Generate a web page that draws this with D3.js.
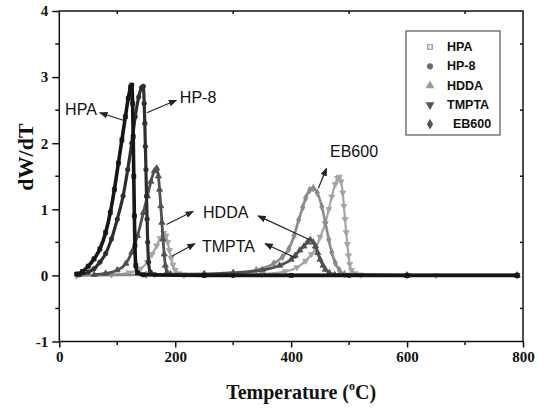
<!DOCTYPE html>
<html>
<head>
<meta charset="utf-8">
<script src="https://cdn.jsdelivr.net/npm/d3@7"></script>
<style>
  body { margin: 0; background: #fff; }
  svg { display: block; }
</style>
</head>
<body>
<svg id="chart" width="542" height="410"></svg>
<script>
// series values: [temperature in C, dW/dT]
var hpaData = [[30,0.02],[40,0.06],[50,0.14],[60,0.25],[70,0.4],[80,0.65],[88,0.95],[95,1.3],[102,1.7],[108,2.05],[114,2.4],[119,2.68],[123,2.85],[125,2.88],[126.5,2.6],[127.5,2.1],[128.5,1.5],[129.5,0.9],[130.5,0.45],[132,0.15],[135,0.04],[145,0.01],[250,0],[400,0],[600,0],[790,0]];
var hp8Data = [[35,0.01],[50,0.05],[60,0.1],[70,0.2],[80,0.33],[90,0.55],[100,0.85],[110,1.2],[118,1.6],[125,2.0],[131,2.4],[137,2.7],[142,2.84],[145,2.86],[146.5,2.6],[147.5,2.3],[148.5,1.95],[149.5,1.6],[150.5,1.2],[151.5,0.85],[152.5,0.5],[154,0.2],[157,0.05],[165,0.01],[300,0],[500,0],[790,0]];
var hddaData = [[60,0.01],[80,0.03],[100,0.08],[115,0.18],[125,0.35],[135,0.6],[145,0.95],[152,1.2],[158,1.42],[164,1.58],[168,1.62],[171,1.5],[173,1.3],[175,1.05],[177,0.8],[179,0.55],[181,0.32],[183,0.15],[186,0.05],[192,0.02],[250,0.02],[300,0.04],[350,0.08],[380,0.15],[400,0.24],[407,0.3],[415,0.38],[422,0.44],[428,0.5],[433,0.54],[438,0.5],[442,0.44],[446,0.34],[450,0.24],[455,0.15],[459,0.09],[466,0.04],[475,0.01],[600,0],[790,0]];
var tmptaData = [[90,0.01],[120,0.04],[140,0.1],[152,0.2],[160,0.32],[168,0.45],[174,0.56],[180,0.64],[184,0.6],[187,0.5],[190,0.38],[193,0.26],[196,0.16],[200,0.08],[206,0.03],[215,0.01],[300,0.01],[350,0.02],[390,0.06],[410,0.12],[425,0.22],[435,0.32],[442,0.4],[450,0.58],[459,0.79],[465,1.0],[470,1.19],[476,1.38],[480,1.47],[483,1.49],[486,1.42],[489,1.25],[491,1.05],[493,0.85],[495,0.65],[497,0.47],[499,0.3],[501,0.17],[504,0.08],[510,0.03],[520,0.01],[650,0],[790,0]];
var eb600Data = [[30,0],[150,0.01],[250,0.02],[300,0.03],[340,0.08],[370,0.18],[385,0.28],[396,0.4],[405,0.6],[413,0.84],[420,1.03],[425,1.17],[432,1.29],[438,1.32],[445,1.25],[453,1.04],[459,0.8],[465,0.54],[470,0.35],[476,0.19],[483,0.08],[492,0.02],[600,0],[790,0]];

var seriesNames = ["HPA", "HP-8", "HDDA", "TMPTA", "EB600"];
var xTicks = [0, 200, 400, 600, 800];
var xMinorTicks = [100, 300, 500, 700];
var yTicks = [-1, 0, 1, 2, 3, 4];
var yMinorTicks = [-0.5, 0.5, 1.5, 2.5, 3.5];

// label position, then arrows [head, tail] in data units
var labels = [
  { text: "HPA", at: [10, 2.43], arrows: [[[70, 2.46], [113, 2.34]]] },
  { text: "HP-8", at: [208, 2.61], arrows: [[[202, 2.65], [151, 2.46]]] },
  { text: "HDDA", at: [248, 0.87], arrows: [[[231, 0.97], [185, 0.77]], [[343, 0.9], [432, 0.54]]] },
  { text: "TMPTA", at: [246, 0.36], arrows: [[[234, 0.48], [194, 0.29]], [[355, 0.48], [409, 0.26]]] },
  { text: "EB600", at: [467, 1.79], arrows: [[[461, 1.62], [447, 1.32]]] }
];

var series = [
  { name: seriesNames[0], data: hpaData, color: "#161616", width: 3.6, sym: d3.symbolSquare, rot: 0 },
  { name: seriesNames[1], data: hp8Data, color: "#2e2e2e", width: 3.2, sym: d3.symbolCircle, rot: 0 },
  { name: seriesNames[2], data: hddaData, color: "#505050", width: 2.8, sym: d3.symbolTriangle, rot: 0 },
  { name: seriesNames[3], data: tmptaData, color: "#a4a4a4", width: 2.2, sym: d3.symbolTriangle, rot: 180 },
  { name: seriesNames[4], data: eb600Data, color: "#8a8a8a", width: 2.6, sym: d3.symbolDiamond, rot: 0 }
];

var svg = d3.select("#chart");
var plotLeft = 59.3, plotRight = 523, plotTop = 11, plotBottom = 341.5;

var x = d3.scaleLinear().domain([0, 800]).range([plotLeft, plotRight]);
var y = d3.scaleLinear().domain([-1, 4]).range([plotBottom, plotTop]);

var serif = "'Liberation Serif', 'Times New Roman', serif";
var sans = "'Liberation Sans', Arial, sans-serif";

var line = d3.line()
  .x(function(d) { return x(d[0]); })
  .y(function(d) { return y(d[1]); })
  .curve(d3.curveMonotoneX);

var plot = svg.append("g");

// draw light series first so dark ones sit on top
var drawOrder = [3, 4, 2, 1, 0];
drawOrder.forEach(function(i) {
  var s = series[i];
  plot.append("path")
    .datum(s.data)
    .attr("d", line)
    .attr("fill", "none")
    .attr("stroke", s.color)
    .attr("stroke-width", s.width)
    .attr("stroke-linejoin", "round");

  plot.selectAll(".m" + i)
    .data(s.data)
    .enter().append("path")
    .attr("class", "m" + i)
    .attr("d", d3.symbol().type(s.sym).size(16))
    .attr("transform", function(d) {
      return "translate(" + x(d[0]) + "," + y(d[1]) + ") rotate(" + s.rot + ")";
    })
    .attr("fill", s.color)
    .attr("stroke", s.color)
    .attr("stroke-width", 0.8);
});

// frame
svg.append("rect")
  .attr("x", plotLeft).attr("y", plotTop)
  .attr("width", plotRight - plotLeft).attr("height", plotBottom - plotTop)
  .attr("fill", "none")
  .attr("stroke", "#111")
  .attr("stroke-width", 1.5);

// bottom axis
var xAxis = svg.append("g")
  .attr("transform", "translate(0," + plotBottom + ")")
  .call(d3.axisBottom(x).tickValues(xTicks).tickSize(6).tickPadding(4));
xAxis.select(".domain").remove();
xAxis.selectAll("line").attr("stroke", "#111").attr("stroke-width", 1.5);
xAxis.selectAll("text")
  .attr("font-family", serif).attr("font-weight", "bold")
  .attr("font-size", 15).attr("fill", "#111");

svg.append("g").selectAll("line")
  .data(xMinorTicks).enter().append("line")
  .attr("x1", function(d) { return x(d); }).attr("x2", function(d) { return x(d); })
  .attr("y1", plotBottom).attr("y2", plotBottom + 3.5)
  .attr("stroke", "#111").attr("stroke-width", 1.5);

// top mirror ticks
svg.append("g").selectAll("line")
  .data(xMinorTicks).enter().append("line")
  .attr("x1", function(d) { return x(d); }).attr("x2", function(d) { return x(d); })
  .attr("y1", plotTop).attr("y2", plotTop + 3)
  .attr("stroke", "#111").attr("stroke-width", 1.5);

// left axis
var yAxis = svg.append("g")
  .attr("transform", "translate(" + plotLeft + ",0)")
  .call(d3.axisLeft(y).tickValues(yTicks).tickSize(7).tickPadding(4)
    .tickFormat(function(d) { return String(d); }));
yAxis.select(".domain").remove();
yAxis.selectAll("line").attr("stroke", "#111").attr("stroke-width", 1.5);
yAxis.selectAll("text")
  .attr("font-family", serif).attr("font-weight", "bold")
  .attr("font-size", 15).attr("fill", "#111");

svg.append("g").selectAll("line")
  .data(yMinorTicks).enter().append("line")
  .attr("x1", plotLeft - 4).attr("x2", plotLeft)
  .attr("y1", function(d) { return y(d); }).attr("y2", function(d) { return y(d); })
  .attr("stroke", "#111").attr("stroke-width", 1.5);

// right mirror ticks
svg.append("g").selectAll("line")
  .data(yMinorTicks).enter().append("line")
  .attr("x1", plotRight - 3).attr("x2", plotRight)
  .attr("y1", function(d) { return y(d); }).attr("y2", function(d) { return y(d); })
  .attr("stroke", "#111").attr("stroke-width", 1.5);

// axis titles
var xTitle = svg.append("text")
  .attr("x", (plotLeft + plotRight) / 2 + 10).attr("y", 399)
  .attr("text-anchor", "middle")
  .attr("font-family", serif).attr("font-weight", "bold")
  .attr("font-size", 20).attr("fill", "#111");
xTitle.append("tspan").text("Temperature (");
xTitle.append("tspan").attr("font-size", 12).attr("dy", -9).text("o");
xTitle.append("tspan").attr("dy", 9).text("C)");

svg.append("text")
  .attr("transform", "translate(33,157) rotate(-90)")
  .attr("text-anchor", "middle")
  .attr("font-family", serif).attr("font-weight", "bold")
  .attr("font-size", 22).attr("fill", "#111")
  .text("dW/dT");

// annotations
var defs = svg.append("defs");
defs.append("marker")
  .attr("id", "head")
  .attr("viewBox", "0 0 10 10")
  .attr("refX", 9).attr("refY", 5)
  .attr("markerWidth", 7).attr("markerHeight", 7)
  .attr("orient", "auto")
  .append("path")
  .attr("d", "M0,1 L10,5 L0,9 z")
  .attr("fill", "#222");

var notes = svg.append("g");
labels.forEach(function(l) {
  notes.append("text")
    .attr("x", x(l.at[0])).attr("y", y(l.at[1]))
    .attr("font-family", sans).attr("font-size", 16)
    .attr("fill", "#111")
    .text(l.text);
  l.arrows.forEach(function(a) {
    notes.append("line")
      .attr("x1", x(a[1][0])).attr("y1", y(a[1][1]))
      .attr("x2", x(a[0][0])).attr("y2", y(a[0][1]))
      .attr("stroke", "#222").attr("stroke-width", 1.2)
      .attr("marker-end", "url(#head)");
  });
});

// legend
var legendColors = ["#8a8a8a", "#6a6a6a", "#9a9a9a", "#555", "#555"];
var legend = svg.append("g").attr("transform", "translate(406,31)");
legend.append("rect")
  .attr("width", 94).attr("height", 104)
  .attr("fill", "#fff")
  .attr("stroke", "#555").attr("stroke-width", 1.2);

series.forEach(function(s, i) {
  var g = legend.append("g").attr("transform", "translate(0," + (20 + i * 19.3) + ")");
  g.append("path")
    .attr("d", d3.symbol().type(s.sym).size(20))
    .attr("transform", "translate(24,-4) rotate(" + s.rot + ")")
    .attr("fill", i === 0 ? "#fff" : legendColors[i])
    .attr("stroke", legendColors[i])
    .attr("stroke-width", 1.2);
  g.append("text")
    .attr("x", i === 4 ? 47 : 41).attr("y", 0)
    .attr("font-family", sans).attr("font-weight", "bold")
    .attr("font-size", 12.5).attr("fill", "#111")
    .text(s.name);
});
</script>
</body>
</html>
